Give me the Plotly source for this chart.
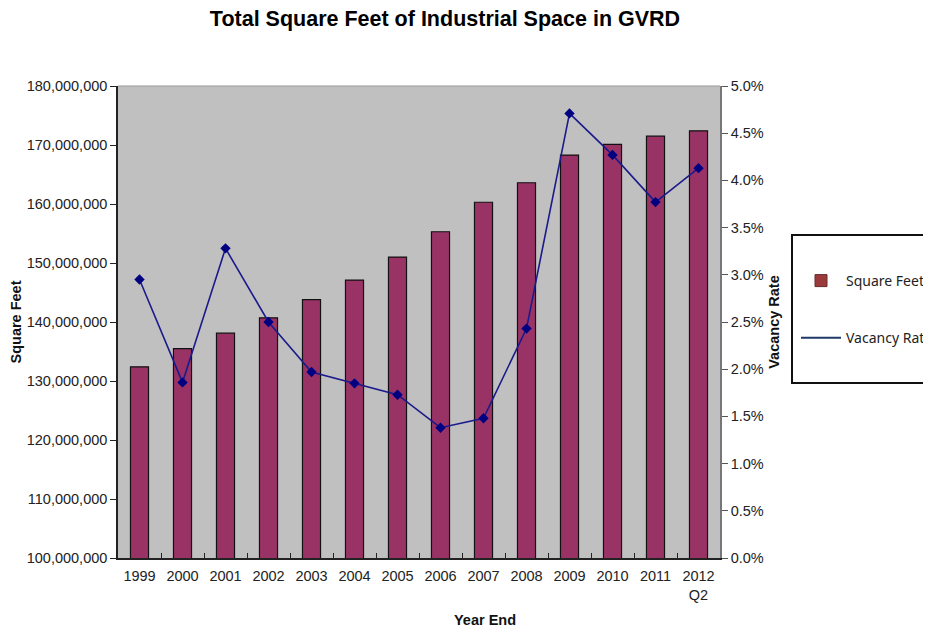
import plotly.graph_objects as go

years = ["1999", "2000", "2001", "2002", "2003", "2004", "2005", "2006",
         "2007", "2008", "2009", "2010", "2011", "2012<br>Q2"]
square_feet = [132.4e6, 135.5e6, 138.1e6, 140.7e6, 143.8e6, 147.1e6, 151.0e6,
               155.3e6, 160.3e6, 163.6e6, 168.3e6, 170.1e6, 171.5e6, 172.4e6]
vacancy_rate = [0.0295, 0.0186, 0.0328, 0.0250, 0.0197, 0.0185, 0.0173,
                0.0138, 0.0148, 0.0243, 0.0471, 0.0427, 0.0377, 0.0413]

FONT = "Liberation Sans, Arial, sans-serif"
LEG_FONT = "Noto Sans, Open Sans, sans-serif"

# page body has an 8px margin; compensate
OFF = 8
W, H = 931, 629
PL, PR, PT, PB = 118 - OFF, 720 - OFF, 86 - OFF, 558 - OFF
PW, PH = PR - PL, PB - PT

def px(xs):
    return (xs - OFF - PL) / PW

def py(ys):
    return (PB - (ys - OFF)) / PH

fig = go.Figure()
fig.add_trace(go.Bar(
    x=years, y=square_feet, name="Square Feet", width=0.42,
    marker=dict(color="#993366", line=dict(color="#111111", width=1.2)),
    yaxis="y", showlegend=False,
))
fig.add_trace(go.Scatter(
    x=years, y=vacancy_rate, name="Vacancy Rate", mode="lines+markers",
    line=dict(color="#1a1a8c", width=1.6),
    marker=dict(symbol="diamond", size=8, color="#000080"),
    yaxis="y2", showlegend=False,
))
# legend swatches (as drawn in the reference legend)
fig.add_trace(go.Bar(
    x=[None], y=[None], name="Square Feet",
    marker=dict(color="#9B3A3A", line=dict(color="#6b2a2a", width=1)),
    legendgroup="a", yaxis="y",
))
fig.add_trace(go.Scatter(
    x=[None], y=[None], name="Vacancy Rate", mode="lines",
    line=dict(color="#1F3A68", width=2),
    legendgroup="b", yaxis="y2",
))

FS = 14.5
fig.update_layout(
    width=W, height=H,
    paper_bgcolor="white", plot_bgcolor="#C0C0C0",
    margin=dict(l=PL, r=W - PR, t=PT, b=H - PB, autoexpand=False),
    barmode="overlay",
    showlegend=True,
    title=dict(text="<b>Total Square Feet of Industrial Space in GVRD</b>",
               x=(445 - OFF) / W, xref="container", xanchor="center",
               y=1 - (18 - OFF) / H, yref="container", yanchor="middle",
               font=dict(family=FONT, size=21.5, color="#000")),
    font=dict(family=FONT, size=FS, color="#222"),
    xaxis=dict(
        type="category", range=[-0.5, len(years) - 0.5], autorange=False,
        showgrid=False, tickson="boundaries", tickangle=0,
        ticks="inside", ticklen=5, tickcolor="#222", ticklabelstandoff=4,
        showline=True, linecolor="#222", linewidth=1.5,
        tickfont=dict(family=FONT, size=FS, color="#222"),
    ),
    yaxis=dict(
        range=[100e6, 180e6], dtick=10e6, tickformat=",d",
        showgrid=False, zeroline=False,
        ticks="outside", ticklen=6, tickcolor="#222",
        showline=True, linecolor="#222", linewidth=1.5,
        tickfont=dict(family=FONT, size=FS, color="#222"),
        title=dict(text="<b>Square Feet</b>", font=dict(family=FONT, size=FS, color="#111"), standoff=4),
    ),
    yaxis2=dict(
        overlaying="y", side="right", range=[0, 0.05], dtick=0.005,
        tickformat=".1%", showgrid=False, zeroline=False,
        ticks="outside", ticklen=6, tickcolor="#555",
        showline=True, linecolor="#777", linewidth=1.5,
        tickfont=dict(family=FONT, size=FS, color="#222"),
        title=dict(text="<b>Vacancy Rate</b>", font=dict(family=FONT, size=FS, color="#111"), standoff=6),
    ),
    legend=dict(
        x=px(796), xanchor="left", xref="paper",
        y=py(265), yanchor="top",
        borderwidth=0, bgcolor="rgba(0,0,0,0)",
        font=dict(family=LEG_FONT, size=14, color="#222"),
        tracegroupgap=36, itemwidth=40,
    ),
    annotations=[dict(
        text="<b>Year End</b>", xref="paper", yref="paper",
        x=px(485), y=py(620), xanchor="center", yanchor="middle",
        showarrow=False, font=dict(family=FONT, size=FS, color="#111"),
    )],
)
# legend frame
fig.add_shape(type="rect", xref="paper", yref="paper",
              x0=px(792), x1=px(960), y0=py(383), y1=py(235),
              line=dict(color="#111", width=2), fillcolor="white", layer="below")
# top border of plot area
fig.add_shape(type="line", xref="paper", yref="paper", x0=0, x1=1, y0=1, y1=1,
              line=dict(color="#999", width=1))

fig.write_html("out.html")
